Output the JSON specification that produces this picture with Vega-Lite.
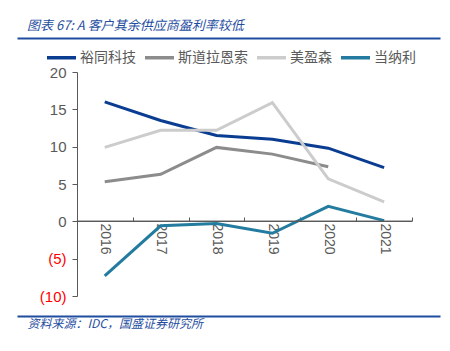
{
  "$schema": "https://vega.github.io/schema/vega-lite/v6.json",
  "width": 423,
  "height": 224,
  "autosize": "none",
  "padding": {"left": 17, "top": 72, "right": 10, "bottom": 55},
  "background": "white",
  "config": {
    "view": {"stroke": null},
    "font": "Liberation Sans",
    "axisY": {
      "values": [-10, -5, 0, 5, 10, 15, 20],
      "labelExpr": "datum.value < 0 ? '(' + format(-datum.value, 'd') + ')' : format(datum.value, 'd')",
      "labelColor": {"condition": {"test": "datum.value < 0", "value": "#FF0000"}, "value": "#595959"},
      "labelFontSize": 15,
      "labelPadding": 6,
      "labelOverlap": false,
      "labelFlush": false,
      "offset": -60,
      "domainColor": "#595959",
      "tickColor": "#595959",
      "tickSize": 5,
      "grid": false,
      "title": null
    }
  },
  "title": {
    "text": "图表 67:  A 客户其余供应商盈利率较低",
    "anchor": "start",
    "frame": "group",
    "orient": "top",
    "offset": 5,
    "dx": 10,
    "font": "Noto Sans CJK SC",
    "fontSize": 13,
    "fontStyle": "italic",
    "fontWeight": "normal",
    "color": "#1F4E9F"
  },
  "datasets": {
    "d": [
      {"company": "裕同科技", "year": 2016, "value": 16.0},
      {"company": "裕同科技", "year": 2017, "value": 13.5},
      {"company": "裕同科技", "year": 2018, "value": 11.5},
      {"company": "裕同科技", "year": 2019, "value": 11.0},
      {"company": "裕同科技", "year": 2020, "value": 9.8},
      {"company": "裕同科技", "year": 2021, "value": 7.2},
      {"company": "斯道拉恩索", "year": 2016, "value": 5.3},
      {"company": "斯道拉恩索", "year": 2017, "value": 6.3},
      {"company": "斯道拉恩索", "year": 2018, "value": 9.9},
      {"company": "斯道拉恩索", "year": 2019, "value": 9.0},
      {"company": "斯道拉恩索", "year": 2020, "value": 7.3},
      {"company": "美盈森", "year": 2016, "value": 9.9},
      {"company": "美盈森", "year": 2017, "value": 12.2},
      {"company": "美盈森", "year": 2018, "value": 12.2},
      {"company": "美盈森", "year": 2019, "value": 15.9},
      {"company": "美盈森", "year": 2020, "value": 5.7},
      {"company": "美盈森", "year": 2021, "value": 2.6},
      {"company": "当纳利", "year": 2016, "value": -7.3},
      {"company": "当纳利", "year": 2017, "value": -0.6},
      {"company": "当纳利", "year": 2018, "value": -0.3},
      {"company": "当纳利", "year": 2019, "value": -1.6},
      {"company": "当纳利", "year": 2020, "value": 2.0},
      {"company": "当纳利", "year": 2021, "value": 0.1}
    ],
    "zero": [{"x1": 2015.5, "x2": 2021.5, "y": 0}]
  },
  "layer": [
    {
      "data": {"name": "d"},
      "mark": {"type": "line", "strokeWidth": 3},
      "encoding": {
        "x": {
          "field": "year",
          "type": "quantitative",
          "scale": {"domain": [2014.43, 2022.0], "nice": false, "zero": false},
          "axis": {
            "values": [2015.5, 2016.5, 2017.5, 2018.5, 2019.5, 2020.5, 2021.5],
            "labelExpr": "datum.value < 2021 ? format(datum.value + 0.5, 'd') : ''",
            "labelOffset": 28,
            "labelAngle": 90,
            "labelAlign": "left",
            "labelBaseline": "middle",
            "labelPadding": 6,
            "labelFontSize": 14,
            "labelColor": "#595959",
            "labelOverlap": false,
            "offset": -75,
            "domain": false,
            "tickSize": -4,
            "tickColor": "#595959",
            "grid": false,
            "title": null
          }
        },
        "y": {
          "field": "value",
          "type": "quantitative",
          "scale": {"domain": [-10, 20], "nice": false},
          "axis": {"values": [-10, -5, 0, 5, 10, 15, 20], "labelOverlap": false, "title": null}
        },
        "color": {
          "field": "company",
          "type": "nominal",
          "sort": ["裕同科技", "斯道拉恩索", "美盈森", "当纳利"],
          "scale": {
            "domain": ["裕同科技", "斯道拉恩索", "美盈森", "当纳利"],
            "range": ["#0A3D91", "#8C8C8C", "#CCCCCC", "#237C9F"]
          },
          "legend": {
            "orient": "none",
            "legendX": 28,
            "legendY": -31,
            "direction": "horizontal",
            "title": null,
            "symbolType": "stroke",
            "symbolSize": 841,
            "symbolStrokeWidth": 3.5,
            "labelFont": "Noto Sans CJK SC",
            "labelFontSize": 14,
            "labelColor": "#595959",
            "labelOffset": 2,
            "columnPadding": 2
          }
        }
      }
    },
    {
      "data": {"name": "zero"},
      "mark": {"type": "rule", "color": "#595959", "strokeWidth": 1.2},
      "encoding": {
        "x": {
          "field": "x1",
          "type": "quantitative",
          "axis": {
            "orient": "top",
            "offset": 34,
            "domainColor": "#1F4E9F",
            "domainWidth": 2,
            "labels": false,
            "ticks": false,
            "grid": false,
            "title": null
          }
        },
        "x2": {"field": "x2"},
        "y": {"field": "y", "type": "quantitative", "axis": {"values": [-10, -5, 0, 5, 10, 15, 20], "labelOverlap": false, "title": null}}
      }
    },
    {
      "data": {"name": "zero"},
      "mark": {"type": "rule", "color": "#595959", "strokeWidth": 1.2},
      "encoding": {
        "x": {
          "field": "x1",
          "type": "quantitative",
          "axis": {
            "orient": "bottom",
            "offset": 20,
            "domainColor": "#1F4E9F",
            "domainWidth": 2,
            "labels": false,
            "ticks": false,
            "grid": false,
            "title": "资料来源：IDC，国盛证券研究所",
            "titleAnchor": "start",
            "titleAlign": "left",
            "titleX": 10,
            "titleY": 2,
            "titleBaseline": "top",
            "titleFont": "Noto Sans CJK SC",
            "titleFontSize": 12,
            "titleFontStyle": "italic",
            "titleFontWeight": "normal",
            "titleColor": "#1F4E9F"
          }
        },
        "x2": {"field": "x2"},
        "y": {"field": "y", "type": "quantitative", "axis": {"values": [-10, -5, 0, 5, 10, 15, 20], "labelOverlap": false, "title": null}}
      }
    }
  ],
  "resolve": {"axis": {"x": "independent"}}
}
